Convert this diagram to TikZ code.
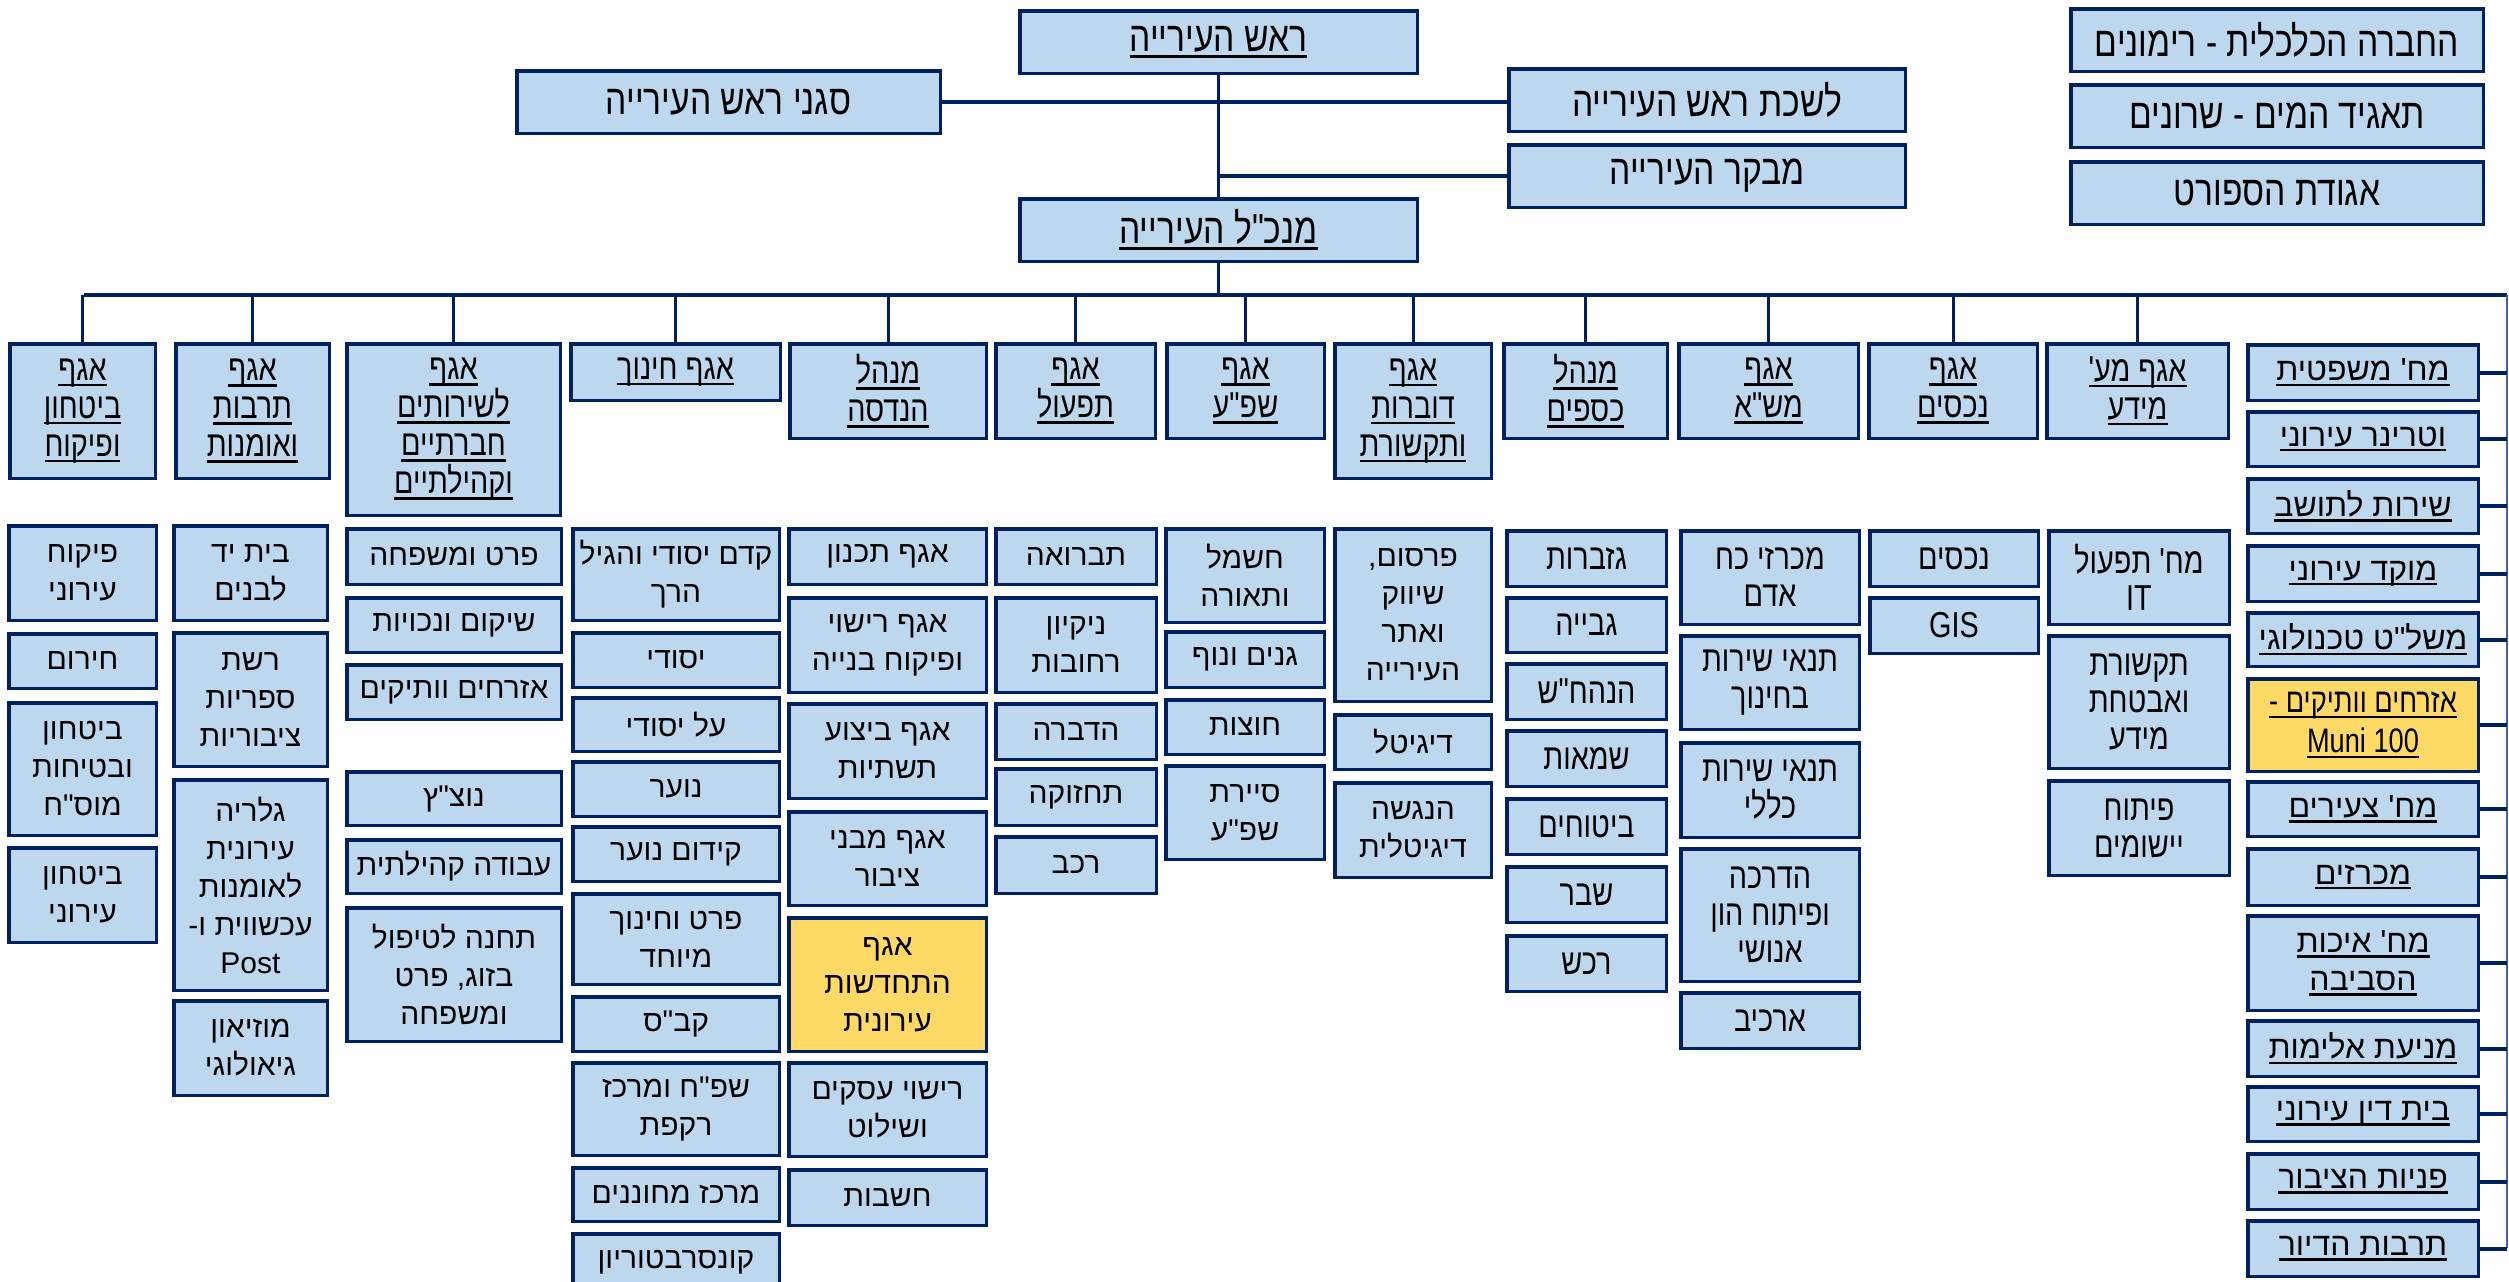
\documentclass[tikz,border=0pt]{standalone}
\usepackage{fontspec}
\TeXXeTstate=1
\newfontfamily\hebf[Script=Hebrew]{Liberation Sans}
\newfontfamily\hebn[Script=Hebrew,FakeStretch=0.8]{Liberation Sans}
\definecolor{navy}{RGB}{0,32,96}
\definecolor{lblue}{RGB}{189,215,238}
\definecolor{yel}{RGB}{255,217,102}
\definecolor{thinline}{RGB}{68,100,160}
\newsavebox\ulb
\newcommand\HR[1]{\beginR#1\endR}
\newcommand\HU[1]{\sbox\ulb{\beginR#1\endR}\rlap{\rule[-0.16em]{\wd\ulb}{0.07em}}\usebox\ulb}
\newcommand\LU[1]{\sbox\ulb{#1}\rlap{\rule[-0.16em]{\wd\ulb}{0.07em}}\usebox\ulb}
\newcommand\AP{\kern0pt'}
\newcommand\BX[7]{\node[#1,minimum width={#5-#3-3.5},minimum height={#6-#4-3.5}] (#2) at ({(#3+#5)/2},{(#4+#6)/2}) {#7};}
\tikzset{
  base/.style={draw=navy,line width=3.5pt,fill=lblue,inner sep=0pt,align=center,text=black},
  topbox/.style={base,font={\hebn\fontsize{42}{46}\selectfont}},
  hdr/.style={base,font={\hebn\fontsize{36}{38}\selectfont}},
  subA/.style={base,font={\hebf\fontsize{30}{38}\selectfont}},
  subN/.style={base,font={\hebn\fontsize{36}{37}\selectfont}},
  rcol/.style={base,font={\hebf\fontsize{32}{38}\selectfont}},
  rcolN/.style={base,font={\hebn\fontsize{34}{40}\selectfont}},
  yl/.style={fill=yel},
  conn/.style={draw=navy,line width=3.5pt},
  bus/.style={draw=navy,line width=4.5pt},
  drop/.style={draw=navy,line width=3pt},
  stub/.style={draw=navy,line width=4pt},
  thin/.style={draw=thinline,line width=2pt}
}
\begin{document}
\begin{tikzpicture}[x=1pt,y=-1pt]
\fill[white] (0,0) rectangle (2509,1282);
\useasboundingbox (0,0) rectangle (2509,1282);
% top
\BX{topbox}{mayor}{1018}{9}{1419}{75}{\HU{ראש העירייה}}
\BX{topbox}{deputy}{515}{69}{942}{135}{\HR{סגני ראש העירייה}}
\BX{topbox}{bureau}{1507}{67}{1907}{133}{\HR{לשכת ראש העירייה}}
\BX{topbox}{auditor}{1507}{143}{1907}{209}{\HR{מבקר העירייה}}
\BX{topbox}{ceo}{1018}{197}{1419}{263}{\HU{מנכ"ל העירייה}}
\BX{topbox}{eco}{2069}{7}{2485}{73}{\HR{החברה הכלכלית - רימונים}}
\BX{topbox}{water}{2069}{83}{2485}{149}{\HR{תאגיד המים - שרונים}}
\BX{topbox}{sport}{2069}{160}{2485}{226}{\HR{אגודת הספורט}}
% headers
\BX{hdr}{h1}{8}{342}{157}{480}{\HU{אגף}\\\HU{ביטחון}\\\HU{ופיקוח}}
\BX{hdr}{h2}{174}{342}{331}{480}{\HU{אגף}\\\HU{תרבות}\\\HU{ואומנות}}
\BX{hdr}{h3}{345}{342}{562}{517}{\HU{אגף}\\\HU{לשירותים}\\\HU{חברתיים}\\\HU{וקהילתיים}}
\BX{hdr}{h4}{569}{342}{782}{402}{\HU{אגף חינוך}}
\BX{hdr}{h5}{788}{342}{988}{440}{\HU{מנהל}\\\HU{הנדסה}}
\BX{hdr}{h6}{994}{342}{1157}{440}{\HU{אגף}\\\HU{תפעול}}
\BX{hdr}{h7}{1165}{342}{1326}{440}{\HU{אגף}\\\HU{שפ"ע}}
\BX{hdr}{h8}{1333}{342}{1493}{480}{\HU{אגף}\\\HU{דוברות}\\\HU{ותקשורת}}
\BX{hdr}{h9}{1502}{342}{1669}{440}{\HU{מנהל}\\\HU{כספים}}
\BX{hdr}{h10}{1677}{342}{1860}{440}{\HU{אגף}\\\HU{מש"א}}
\BX{hdr}{h11}{1867}{342}{2039}{440}{\HU{אגף}\\\HU{נכסים}}
\BX{hdr}{h12}{2045}{342}{2230}{440}{\HU{אגף מע\AP}\\\HU{מידע}}
% col 1
\BX{subA}{a1}{7}{524}{158}{622}{\HR{פיקוח}\\\HR{עירוני}}
\BX{subA}{a2}{7}{632}{158}{690}{\HR{חירום}}
\BX{subA}{a3}{7}{701}{158}{837}{\HR{ביטחון}\\\HR{ובטיחות}\\\HR{מוס"ח}}
\BX{subA}{a4}{7}{846}{158}{944}{\HR{ביטחון}\\\HR{עירוני}}
% col 2
\BX{subA}{b1}{172}{524}{329}{622}{\HR{בית יד}\\\HR{לבנים}}
\BX{subA}{b2}{172}{631}{329}{768}{\HR{רשת}\\\HR{ספריות}\\\HR{ציבוריות}}
\BX{subA}{b3}{172}{778}{329}{992}{\HR{גלריה}\\\HR{עירונית}\\\HR{לאומנות}\\\HR{עכשווית ו\kern0pt-}\\Post}
\BX{subA}{b4}{172}{999}{329}{1097}{\HR{מוזיאון}\\\HR{גיאולוגי}}
% col 3
\BX{subA}{c1}{345}{527}{563}{586}{\HR{פרט ומשפחה}}
\BX{subA}{c2}{345}{596}{563}{654}{\HR{שיקום ונכויות}}
\BX{subA}{c3}{345}{663}{563}{721}{\HR{אזרחים וותיקים}}
\BX{subA}{c4}{345}{770}{563}{827}{\HR{נוצ"ץ}}
\BX{subA}{c5}{345}{838}{563}{895}{\HR{עבודה קהילתית}}
\BX{subA}{c6}{345}{906}{563}{1043}{\HR{תחנה לטיפול}\\\HR{בזוג\kern0pt, פרט}\\\HR{ומשפחה}}
% col 4
\BX{subA}{d1}{571}{527}{781}{622}{\HR{קדם יסודי והגיל}\\\HR{הרך}}
\BX{subA}{d2}{571}{631}{781}{689}{\HR{יסודי}}
\BX{subA}{d3}{571}{696}{781}{753}{\HR{על יסודי}}
\BX{subA}{d4}{571}{760}{781}{818}{\HR{נוער}}
\BX{subA}{d5}{571}{825}{781}{883}{\HR{קידום נוער}}
\BX{subA}{d6}{571}{892}{781}{986}{\HR{פרט וחינוך}\\\HR{מיוחד}}
\BX{subA}{d7}{571}{995}{781}{1053}{\HR{קב"ס}}
\BX{subA}{d8}{571}{1061}{781}{1157}{\HR{שפ"ח ומרכז}\\\HR{רקפת}}
\BX{subA}{d9}{571}{1166}{781}{1223}{\HR{מרכז מחוננים}}
\BX{subA}{d10}{571}{1232}{781}{1292}{\HR{קונסרבטוריון}}
% col 5
\BX{subA}{e1}{787}{527}{988}{586}{\HR{אגף תכנון}}
\BX{subA}{e2}{787}{596}{988}{694}{\HR{אגף רישוי}\\\HR{ופיקוח בנייה}}
\BX{subA}{e3}{787}{702}{988}{800}{\HR{אגף ביצוע}\\\HR{תשתיות}}
\BX{subA}{e4}{787}{810}{988}{907}{\HR{אגף מבני}\\\HR{ציבור}}
\BX{subA,yl}{e5}{787}{916}{988}{1053}{\HR{אגף}\\\HR{התחדשות}\\\HR{עירונית}}
\BX{subA}{e6}{787}{1061}{988}{1158}{\HR{רישוי עסקים}\\\HR{ושילוט}}
\BX{subA}{e7}{787}{1168}{988}{1227}{\HR{חשבות}}
% col 6
\BX{subA}{f1}{994}{527}{1158}{586}{\HR{תברואה}}
\BX{subA}{f2}{994}{596}{1158}{694}{\HR{ניקיון}\\\HR{רחובות}}
\BX{subA}{f3}{994}{702}{1158}{761}{\HR{הדברה}}
\BX{subA}{f4}{994}{767}{1158}{827}{\HR{תחזוקה}}
\BX{subA}{f5}{994}{835}{1158}{895}{\HR{רכב}}
% col 7
\BX{subA}{g1}{1164}{527}{1326}{624}{\HR{חשמל}\\\HR{ותאורה}}
\BX{subA}{g2}{1164}{630}{1326}{689}{\HR{גנים ונוף}}
\BX{subA}{g3}{1164}{698}{1326}{756}{\HR{חוצות}}
\BX{subA}{g4}{1164}{764}{1326}{861}{\HR{סיירת}\\\HR{שפ"ע}}
% col 8
\BX{subA}{k1}{1333}{527}{1493}{703}{\HR{פרסום\kern0pt,}\\\HR{שיווק}\\\HR{ואתר}\\\HR{העירייה}}
\BX{subA}{k2}{1333}{713}{1493}{771}{\HR{דיגיטל}}
\BX{subA}{k3}{1333}{781}{1493}{879}{\HR{הנגשה}\\\HR{דיגיטלית}}
% col 9
\BX{subN}{m1}{1505}{529}{1668}{588}{\HR{גזברות}}
\BX{subN}{m2}{1505}{596}{1668}{654}{\HR{גבייה}}
\BX{subN}{m3}{1505}{662}{1668}{721}{\HR{הנהח"ש}}
\BX{subN}{m4}{1505}{729}{1668}{788}{\HR{שמאות}}
\BX{subN}{m5}{1505}{797}{1668}{856}{\HR{ביטוחים}}
\BX{subN}{m6}{1505}{865}{1668}{924}{\HR{שבר}}
\BX{subN}{m7}{1505}{934}{1668}{993}{\HR{רכש}}
% col 10
\BX{subN}{n1}{1679}{529}{1861}{626}{\HR{מכרזי כח}\\\HR{אדם}}
\BX{subN}{n2}{1679}{634}{1861}{731}{\HR{תנאי שירות}\\\HR{בחינוך}}
\BX{subN}{n3}{1679}{741}{1861}{839}{\HR{תנאי שירות}\\\HR{כללי}}
\BX{subN}{n4}{1679}{847}{1861}{983}{\HR{הדרכה}\\\HR{ופיתוח הון}\\\HR{אנושי}}
\BX{subN}{n5}{1679}{991}{1861}{1050}{\HR{ארכיב}}
% col 11
\BX{subN}{p1}{1868}{529}{2040}{588}{\HR{נכסים}}
\BX{subN}{p2}{1868}{596}{2040}{655}{GIS}
% col 12
\BX{subN}{q1}{2047}{529}{2231}{626}{\HR{מח\AP{} תפעול}\\IT}
\BX{subN}{q2}{2047}{634}{2231}{770}{\HR{תקשורת}\\\HR{ואבטחת}\\\HR{מידע}}
\BX{subN}{q3}{2047}{779}{2231}{877}{\HR{פיתוח}\\\HR{יישומים}}
% right column
\BX{rcol}{r1}{2246}{343}{2480}{402}{\HU{מח\AP{} משפטית}}
\BX{rcol}{r2}{2246}{410}{2480}{468}{\HU{וטרינר עירוני}}
\BX{rcol}{r3}{2246}{477}{2480}{535}{\HU{שירות לתושב}}
\BX{rcol}{r4}{2246}{544}{2480}{603}{\HU{מוקד עירוני}}
\BX{rcol}{r5}{2246}{611}{2480}{668}{\HU{משל"ט טכנולוגי}}
\BX{rcolN,yl}{r6}{2246}{677}{2480}{773}{\HU{אזרחים וותיקים -}\\\LU{Muni 100}}
\BX{rcol}{r7}{2246}{780}{2480}{838}{\HU{מח\AP{} צעירים}}
\BX{rcol}{r8}{2246}{847}{2480}{907}{\HU{מכרזים}}
\BX{rcol}{r9}{2246}{914}{2480}{1012}{\HU{מח\AP{} איכות}\\\HU{הסביבה}}
\BX{rcol}{r10}{2246}{1019}{2480}{1078}{\HU{מניעת אלימות}}
\BX{rcol}{r11}{2246}{1085}{2480}{1143}{\HU{בית דין עירוני}}
\BX{rcol}{r12}{2246}{1152}{2480}{1211}{\HU{פניות הציבור}}
\BX{rcol}{r13}{2246}{1219}{2480}{1278}{\HU{תרבות הדיור}}
% connectors
\coordinate (busL) at (84,295);
\coordinate (busR) at (2507,295);
\coordinate (busE) at (2507,1248);
\draw[conn] (mayor.south) -- (ceo.north);
\draw[conn] (deputy.east) -- (deputy.east -| bureau.west);
\draw[conn] (auditor.west) -- (auditor.west -| mayor.south);
\draw[conn] (ceo.south) -- (ceo.south |- busL);
\draw[bus] (busL) -- (busR);
\draw[thin] (busR) -- (busE);
\foreach \h in {h1,h2,h3,h4,h5,h6,h7,h8,h9,h10,h11,h12}
  \draw[drop] (\h.north |- busL) -- (\h.north);
\foreach \r in {r1,r2,r3,r4,r5,r6,r7,r8,r9,r10,r11,r12,r13}
  \draw[stub] (\r.east) -- (\r.east -| busR);
\end{tikzpicture}
\end{document}
